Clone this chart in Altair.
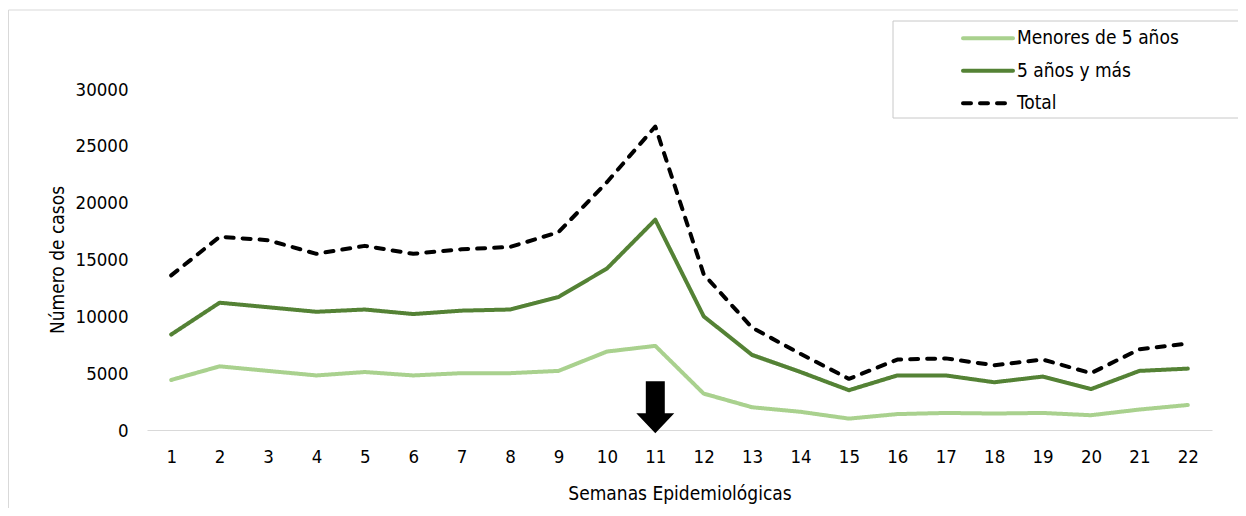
import altair as alt
import pandas as pd

FONT = "Liberation Sans Narrow, Arial Narrow, DejaVu Sans Condensed, Liberation Sans"

semanas = list(range(1, 23))
menores_5 = [4400, 5600, 5200, 4800, 5100, 4800, 5000, 5000, 5200, 6900, 7400,
             3200, 2000, 1600, 1000, 1400, 1500, 1450, 1500, 1300, 1800, 2200]
cinco_y_mas = [8400, 11200, 10800, 10400, 10600, 10200, 10500, 10600, 11700, 14200, 18500,
               10000, 6600, 5100, 3500, 4800, 4800, 4200, 4700, 3600, 5200, 5400]
total = [13600, 17000, 16700, 15500, 16200, 15500, 15900, 16100, 17400, 21800, 26700,
         13700, 9000, 6700, 4500, 6200, 6300, 5700, 6200, 5000, 7100, 7600]

series = ["Menores de 5 años", "5 años y más", "Total"]
colors = ["#A9D18E", "#548235", "#000000"]
dashes = [[1, 0], [1, 0], [8, 9]]
y_ticks = [0, 5000, 10000, 15000, 20000, 25000, 30000]

arrow_week = [11]
arrow_level = [2000]

rows = []
for name, vals in zip(series, [menores_5, cinco_y_mas, total]):
    for s, v in zip(semanas, vals):
        rows.append({"semana": s, "casos": v, "serie": name})
df = pd.DataFrame(rows)

x_scale = alt.Scale(type="point", padding=0.5)
y_scale = alt.Scale(domain=[0, 30000])
color_scale = alt.Scale(domain=series, range=colors)
dash_scale = alt.Scale(domain=series, range=dashes)

one = pd.DataFrame({"k": [0]})

frame = alt.Chart(one).mark_rect(fillOpacity=0, stroke="#d9d9d9", strokeWidth=1).encode(
    x=alt.value(-138.5), x2=alt.value(1300), y=alt.value(-79), y2=alt.value(600)
)

legend_box = alt.Chart(one).mark_rect(fill="white", stroke="#c8c8c8", strokeWidth=1).encode(
    x=alt.value(746), x2=alt.value(1095), y=alt.value(-68), y2=alt.value(29)
)

lines = alt.Chart(df).mark_line(strokeWidth=4, strokeCap="round", strokeJoin="round").encode(
    x=alt.X("semana:O", scale=x_scale, sort=semanas,
            axis=alt.Axis(title="Semanas Epidemiológicas", labelAngle=0, ticks=False,
                          grid=False, domainColor="#d9d9d9", domainWidth=1,
                          labelPadding=17, labelFontSize=18.5, labelFont=FONT,
                          labelColor="#000000", titleFontSize=19, titleFont=FONT,
                          titleFontWeight="normal", titleColor="#000000",
                          titleY=63, titleBaseline="middle")),
    y=alt.Y("casos:Q", scale=y_scale,
            axis=alt.Axis(values=y_ticks, format="d", domain=False, ticks=False, grid=False,
                          labelPadding=19, labelFontSize=18.5, labelFont=FONT,
                          labelColor="#000000", title="Número de casos",
                          titleFontSize=19, titleFont=FONT, titleFontWeight="normal",
                          titleColor="#000000", titleX=-90, titleY=170.5,
                          titleAngle=270, titleBaseline="middle", titleAlign="center")),
    color=alt.Color("serie:N", scale=color_scale, legend=None),
    strokeDash=alt.StrokeDash("serie:N", scale=dash_scale, legend=None),
    detail="serie:N",
)

arrow_df = pd.DataFrame({"semana": arrow_week, "casos": arrow_level})
arrow = alt.Chart(arrow_df).mark_point(
    shape="M-0.365,-1 L0.365,-1 L0.365,0.23 L0.73,0.23 L0,1 L-0.73,0.23 L-0.365,0.23 Z",
    size=2704, filled=True, fill="#000000", strokeWidth=0, opacity=1,
).encode(
    x=alt.X("semana:O", scale=x_scale, sort=semanas),
    y=alt.Y("casos:Q", scale=y_scale, axis=None),
)

leg_df = pd.DataFrame({"serie": series})
leg_y = alt.Scale(type="point", domain=series, range=[-50.7, 14.3], padding=0)
leg_lines = alt.Chart(leg_df).mark_rule(strokeWidth=4, strokeCap="round").encode(
    x=alt.value(816), x2=alt.value(866),
    y=alt.Y("serie:N", scale=leg_y, axis=None),
    color=alt.Color("serie:N", scale=color_scale, legend=None),
    strokeDash=alt.StrokeDash("serie:N", scale=dash_scale, legend=None),
)
leg_text = alt.Chart(leg_df).mark_text(
    align="left", baseline="middle", fontSize=19, font=FONT, color="#000000"
).encode(
    x=alt.value(870),
    y=alt.Y("serie:N", scale=leg_y, axis=None),
    text="serie:N",
)

chart = alt.layer(frame, legend_box, lines, arrow, leg_lines, leg_text).resolve_scale(
    y="independent"
).properties(
    width=1065, height=341,
    padding={"left": 139, "top": 81, "right": 26, "bottom": 78},
    autosize=alt.AutoSizeParams(type="none"),
).configure_view(stroke=None)

chart.save("out.html", embed_options={"renderer": "svg", "actions": False})
